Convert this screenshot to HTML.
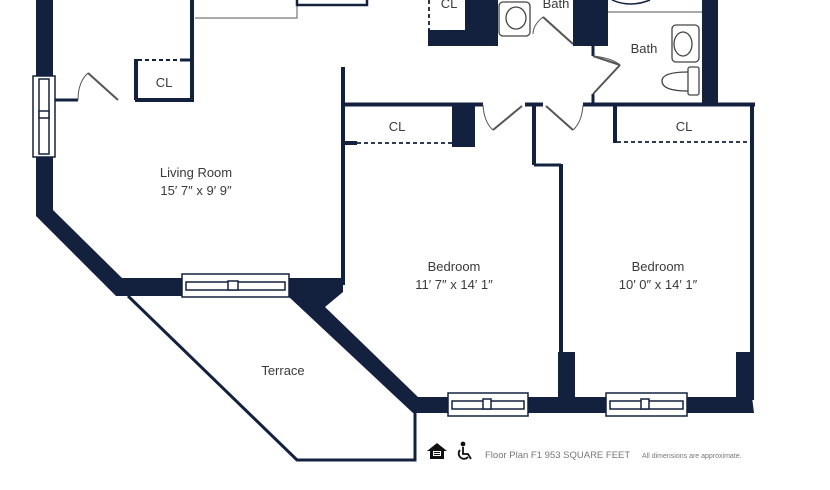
<!DOCTYPE html>
<html><head><meta charset="utf-8"><style>
html,body{margin:0;padding:0;background:#fff}
svg{display:block}
text{font-family:"Liberation Sans",sans-serif;fill:#3a3a3a}
</style></head><body>
<svg width="830" height="490" viewBox="0 0 830 490" xmlns="http://www.w3.org/2000/svg">
<g fill="#13213f" stroke="none">
<polygon points="36,0 53,0 53,210 122,278 289,278 289,296 116,296 36,216"/>
<polygon points="289,278 343,278 343,292 325,307 418,397 752,397 754,413 413,413 289,297"/>
<rect x="558" y="352" width="17" height="46"/>
<rect x="736" y="352" width="18" height="46"/>
<rect x="428" y="30" width="70" height="16"/>
<rect x="465" y="0" width="33" height="46"/>
<rect x="573" y="0" width="35" height="46"/>
<rect x="702" y="0" width="16" height="104"/>
<rect x="452" y="103" width="23" height="44"/>
<rect x="343" y="141" width="14" height="4"/>
</g>
<g stroke="#13213f" fill="none">
<line x1="343" y1="67" x2="343" y2="285" stroke-width="4"/>
<line x1="341" y1="104.5" x2="483" y2="104.5" stroke-width="4"/>
<line x1="525" y1="104.5" x2="543" y2="104.5" stroke-width="4"/>
<line x1="583" y1="104.5" x2="755" y2="104.5" stroke-width="4"/>
<line x1="534" y1="104" x2="534" y2="165" stroke-width="4"/>
<line x1="534" y1="165" x2="561" y2="165" stroke-width="3"/>
<line x1="561" y1="164" x2="561" y2="355" stroke-width="4"/>
<line x1="752" y1="103" x2="752" y2="400" stroke-width="4"/>
<line x1="615" y1="105" x2="615" y2="143" stroke-width="4"/>
<line x1="192" y1="0" x2="192" y2="102" stroke-width="4"/>
<line x1="135" y1="100" x2="194" y2="100" stroke-width="4"/>
<line x1="136" y1="59" x2="136" y2="100" stroke-width="4"/>
<line x1="53" y1="100" x2="78" y2="100" stroke-width="3"/>
<line x1="593" y1="46" x2="593" y2="56" stroke-width="3"/>
<line x1="593" y1="94" x2="593" y2="104" stroke-width="3"/>
<line x1="138" y1="60" x2="180" y2="60" stroke-width="2" stroke-dasharray="4,3"/>
<line x1="180" y1="60" x2="192" y2="60" stroke-width="3"/>
<line x1="357" y1="143" x2="452" y2="143" stroke-width="1.8" stroke-dasharray="4,3"/>
<line x1="617" y1="142" x2="749" y2="142" stroke-width="1.8" stroke-dasharray="4,3"/>
<line x1="429" y1="0" x2="429" y2="30" stroke-width="1.8" stroke-dasharray="4,3"/>
<polyline points="195,18 297,18 297,0" stroke="#777" stroke-width="1.2"/>
<rect x="297" y="-2" width="70" height="7" stroke-width="2.5"/>
<line x1="608" y1="12" x2="702" y2="12" stroke="#555" stroke-width="1"/>
<path d="M612,0 Q630,8 650,0" stroke-width="1.5"/>
<polyline points="128,296 297,460 415,460 415,413" stroke-width="3"/>
<g stroke="#555" stroke-width="2">
<path d="M88,73 L118,100"/><path d="M78,100 Q78,82 88,73" stroke-width="1"/>
<path d="M543,17 L573,44"/><path d="M543,17 Q533,25 533,34" stroke-width="1"/>
<path d="M620,65 L593,56"/><path d="M620,65 L593,94"/><path d="M593,56 Q612,58 620,65" stroke-width="1"/>
<path d="M493,130 L522,106"/><path d="M483,105 Q484,122 493,130" stroke-width="1"/>
<path d="M573,130 L546,106"/><path d="M583,105 Q582,122 573,130" stroke-width="1"/>
</g>
<g stroke="#444" stroke-width="1.3">
<rect x="499" y="2" width="31" height="34" rx="4"/>
<ellipse cx="516" cy="18" rx="10" ry="11"/>
<rect x="672" y="25" width="27" height="37" rx="4"/>
<ellipse cx="683" cy="44" rx="9" ry="12"/>
<rect x="688" y="67" width="11" height="28" rx="2"/>
<path d="M688,72 Q662,72 662,81 Q662,91 688,91"/>
</g>
</g>
<g fill="#fff" stroke="#13213f" stroke-width="1.5">
<rect x="33" y="76" width="22" height="81"/>
<rect x="39" y="79" width="10" height="75"/>
<rect x="39" y="111" width="10" height="7"/>
<rect x="182" y="274" width="107" height="23"/>
<rect x="186" y="282" width="99" height="8"/>
<rect x="228" y="281" width="10" height="9"/>
<rect x="448" y="393" width="80" height="23"/>
<rect x="452" y="401" width="72" height="8"/>
<rect x="483" y="399" width="8" height="10"/>
<rect x="606" y="393" width="81" height="23"/>
<rect x="610" y="401" width="73" height="8"/>
<rect x="641" y="399" width="8" height="10"/>
</g>
<g font-size="13" text-anchor="middle">
<text x="164" y="87">CL</text>
<text x="397" y="131">CL</text>
<text x="684" y="131">CL</text>
<text x="449" y="8">CL</text>
<text x="556" y="8">Bath</text>
<text x="644" y="53">Bath</text>
<text x="196" y="177">Living Room</text>
<text x="196" y="195">15′ 7″ x 9′ 9″</text>
<text x="454" y="271">Bedroom</text>
<text x="454" y="289">11′ 7″ x 14′ 1″</text>
<text x="658" y="271">Bedroom</text>
<text x="658" y="289">10′ 0″ x 14′ 1″</text>
<text x="283" y="375">Terrace</text>
</g>
<g fill="#111">
<polygon points="427,451 437,443 447,451 444,451 444,459 430,459 430,451"/>
<rect x="433" y="451" width="8" height="5" fill="#fff"/>
<rect x="434" y="452" width="6" height="1"/>
<rect x="434" y="454" width="6" height="1"/>
</g>
<g stroke="#111" fill="none" stroke-width="1.8">
<circle cx="463" cy="444" r="1.5" fill="#111"/>
<path d="M463,447 L463,454 L468,454 L471,459"/>
<path d="M460,450 A5,5 0 1 0 468,457"/>
</g>
<text x="485" y="458" font-size="9.5" style="fill:#777">Floor Plan F1 953 SQUARE FEET</text>
<text x="642" y="458" font-size="7" style="fill:#777">All dimensions are approximate.</text>
</svg>
</body></html>
